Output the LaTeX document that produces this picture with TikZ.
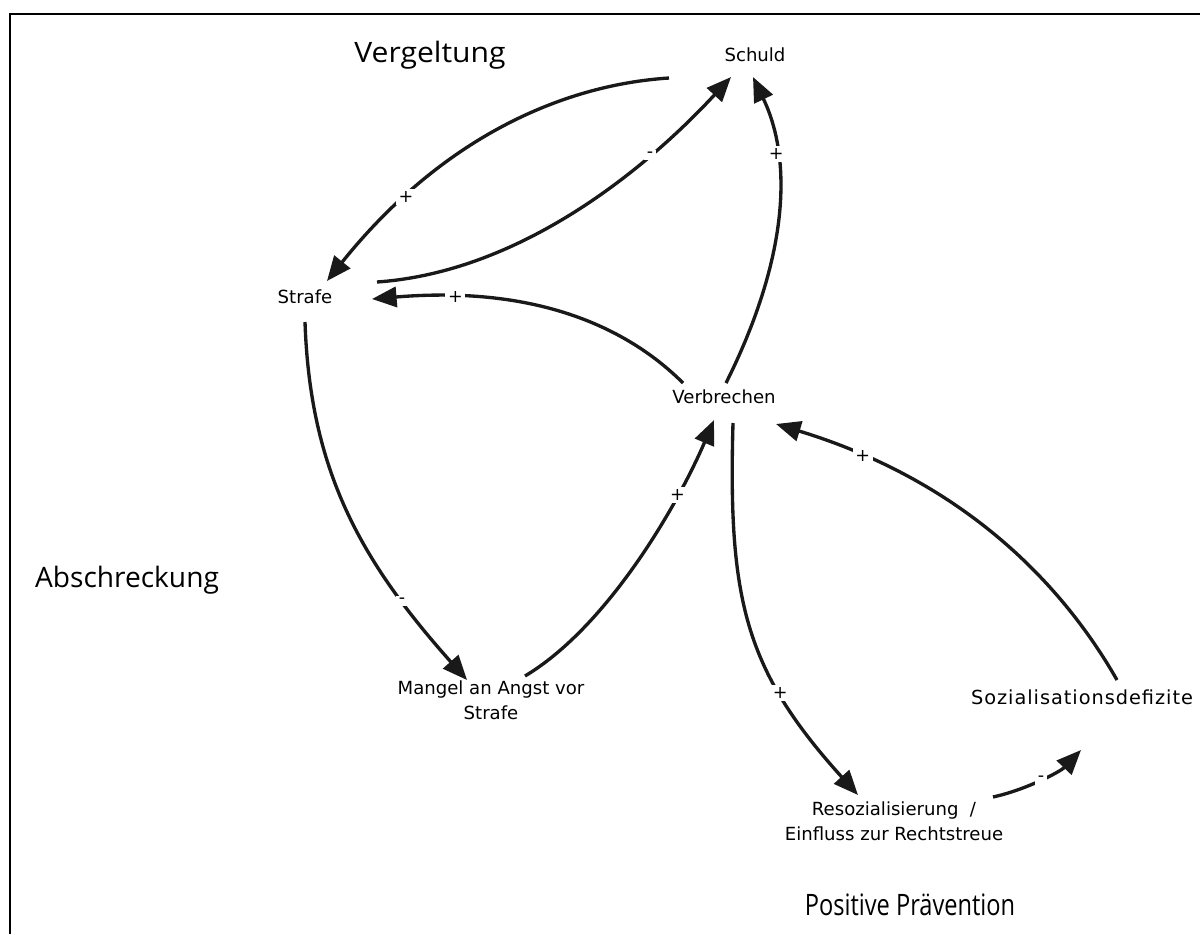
\documentclass[tikz,border=0pt]{standalone}
\usepackage{fontspec}
\usepackage{graphicx}
\setmainfont{DejaVu Sans}
\newfontfamily\bigfont{Open Sans}
\newfontfamily\widefont[LetterSpace=5]{DejaVu Sans}
\usetikzlibrary{arrows.meta,calc}
\begin{document}
\begin{tikzpicture}[x=0.02cm,y=-0.02cm,
  var/.style={font=\fontsize{10.3}{14.5}\selectfont, inner sep=0pt, align=center},
  ttl/.style={font=\bigfont\fontsize{16}{19}\selectfont, inner sep=0pt},
  link/.style={line width=1.9pt, draw=black!90, -{Triangle[length=14pt,width=11.5pt]}},
  pol/.style={font=\fontsize{10}{11}\selectfont, fill=white, inner sep=1.5pt}]
\useasboundingbox (0,0) rectangle (1200,934);
\draw[line width=0.9pt] (1200,14) -- (10,14) -- (10,934);

% titles
\node[ttl] (tV) at (430,55) {\scalebox{1.07}[1]{Vergeltung}};
\node[ttl] (tA) at (127,580) {Abschreckung};
\node[ttl] (tP) at (910,905) {\scalebox{0.84}[1.05]{Positive Prävention}};

% variables
\node[var] (S)  at (755,55)  {Schuld};
\node[var] (St) at (305,297) {Strafe};
\node[var] (V)  at (724,397) {Verbrechen};
\node[var] (M)  at (491,700) {Mangel an Angst vor\\Strafe};
\node[var, font=\widefont\fontsize{11}{14.5}\selectfont] (SD) at (1082,697) {Sozialisationsdefizite};
\node[var] (R)  at (894,821) {Resozialisierung~~/\\Einfluss zur Rechtstreue};

% links
\draw[link] ($(S)+(-86,23)$) .. controls (560,85) and (440,140) .. ($(St)+(22,-16)$)
  node[pol,pos=0.77] {+};
\draw[link] ($(St)+(72,-15)$) .. controls (520,272) and (645,170) .. ($(S)+(-24,22)$)
  node[pol,pos=0.72] {-};
\draw[link] ($(V)+(-41,-14)$) .. controls (630,330) and (540,285) .. ($(St)+(67,2)$)
  node[pol,pos=0.82] {+};
\draw[link] ($(V)+(2,-14)$) .. controls (785,265) and (795,165) .. ($(S)+(-2,22)$)
  node[pol,pos=0.72] {+};
\draw[link] ($(St)+(0,25)$) .. controls (310,470) and (360,560) .. ($(M)+(-24,-20)$)
  node[pol,pos=0.77] {-};
\draw[link] ($(M)+(34,-24)$) .. controls (610,625) and (680,500) .. ($(V)+(-10,23)$)
  node[pol,pos=0.72] {+};
\draw[link] ($(V)+(9,26)$) .. controls (728,600) and (745,670) .. ($(R)+(-36,-26)$)
  node[pol,pos=0.7] {+};
\draw[link] ($(R)+(99,-24)$) .. controls (1025,790) and (1060,772) .. ($(SD)+(-1,53)$)
  node[pol,pos=0.5] {-};
\draw[link] ($(SD)+(35,-17)$) .. controls (1060,580) and (960,480) .. ($(V)+(52,27)$)
  node[pol,pos=0.83] {+};
\end{tikzpicture}
\end{document}
